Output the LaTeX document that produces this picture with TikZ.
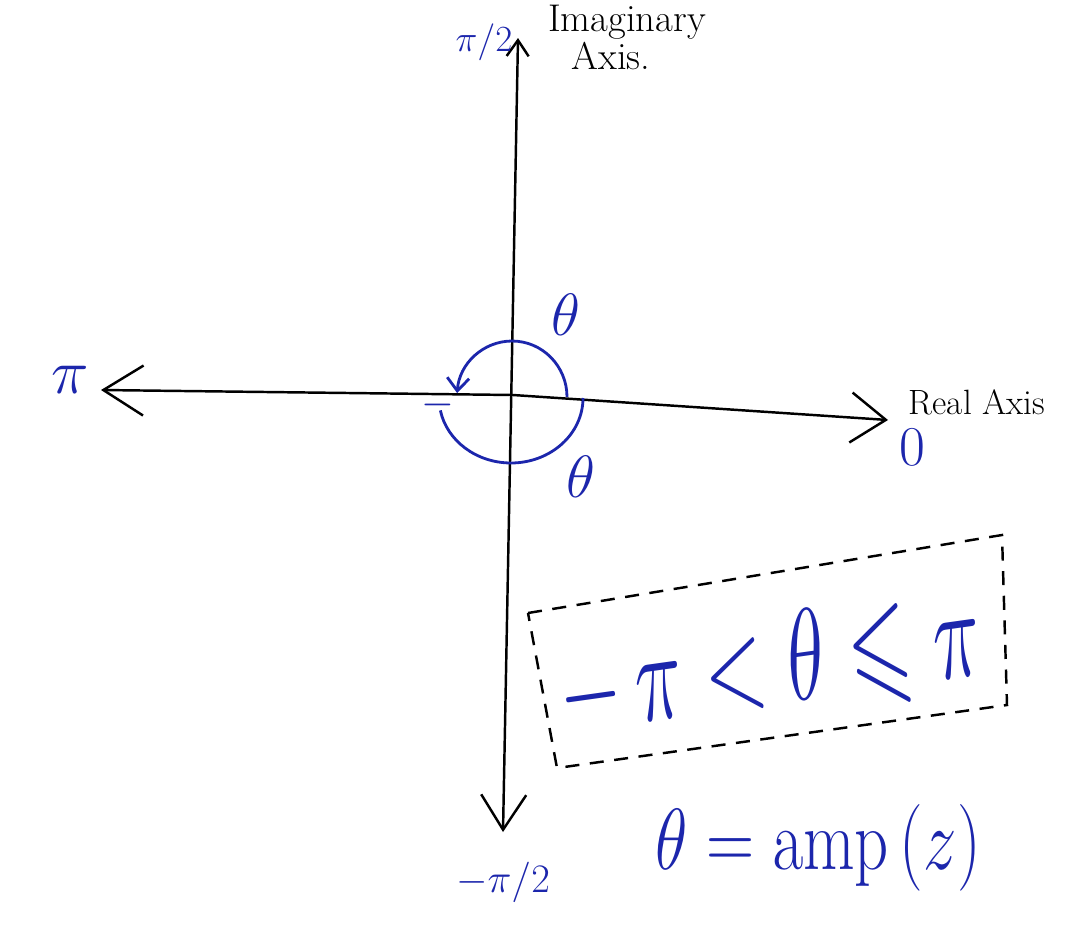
\RequirePackage{fix-cm}
\documentclass[tikz,border=0pt]{standalone}
\usepackage{amssymb}
\usetikzlibrary{arrows.meta}
\definecolor{ink}{RGB}{28,38,172}
\newcommand{\fsz}[1]{\fontsize{#1}{#1}\selectfont}
\begin{document}
\begin{tikzpicture}[x=0.02cm,y=-0.02cm,line width=1.4pt,
  every node/.style={inner sep=0pt},
  blue label/.style={text=ink},
  pen label/.style={text=black}]
  \useasboundingbox (0,0) rectangle (1084,950);
  % axes
  \coordinate (o) at (513,395);
  \coordinate (ptop) at (518,38);
  \coordinate (pbottom) at (503,832);
  \coordinate (pleft) at (101,390);
  \coordinate (pright) at (888,420);
  \draw[{Straight Barb[length=3.2mm,width=4.4mm]}-{Straight Barb[length=7mm,width=9mm]}] (ptop) -- (pbottom);
  \draw[{Straight Barb[length=8mm,width=10mm]}-{Straight Barb[length=7mm,width=10mm]}] (pleft) -- (o) -- (pright);
  % angle arcs
  \coordinate (upstart) at (567,397);
  \coordinate (lowstart) at (583,398);
  \draw[ink,line width=1.6pt,-{Straight Barb[length=2.6mm,width=4.4mm]}] (upstart) arc[start angle=0,end angle=176,x radius=1.1cm,y radius=1.12cm];
  \draw[ink,line width=1.6pt] (lowstart) arc[start angle=0,end angle=-169,x radius=1.44cm,y radius=1.3cm];
  % labels
  \node[blue label,font=\fsz{21}] (halfpi) at (484,42) {$\pi/2$};
  \node[blue label,font=\fsz{23}] (neghalfpi) at (503,882) {$-\pi/2$};
  \node[blue label,font=\fsz{36}] (pi) at (70,380) {$\pi$};
  \node[blue label,font=\fsz{32}] (zero) at (912,447) {0};
  \node[pen label,font=\fsz{22}] (imag) at (627,22) {Imaginary};
  \node[pen label,font=\fsz{22}] (imagaxis) at (611,56) {Axis.};
  \node[pen label,font=\fsz{20}] (real) at (977,402) {Real Axis};
  \node[blue label,font=\fsz{34}] (thetaup) at (566,315) {$\theta$};
  \node[blue label,font=\fsz{34}] (thetalow) at (581,477) {$\theta$};
  \node[blue label,font=\fsz{24}] (minus) at (438,405) {$-$};
  % range box
  \draw[dash pattern=on 8pt off 6pt] (528,613) -- (1002,535) -- (1007,705) -- (557,768) -- cycle;
  \node[blue label,font=\fsz{46},rotate=8] (range) at (770,668) {\scalebox{1}[1.6]{$-\,\pi<\theta\leqslant\pi$}};
  \node[blue label,font=\fsz{38}] (argdef) at (818,848) {\scalebox{1}[1.3]{$\theta=\mathrm{amp}\,(z)$}};
\end{tikzpicture}
\end{document}
